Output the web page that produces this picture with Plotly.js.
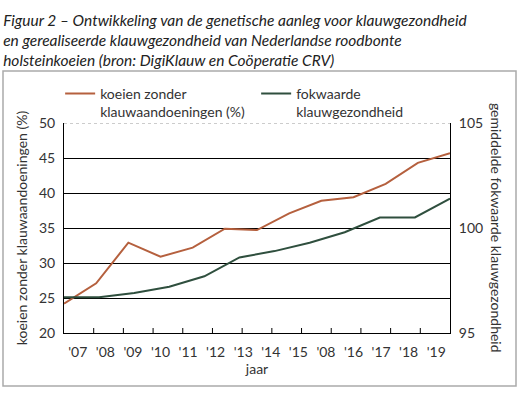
<!DOCTYPE html>
<html>
<head>
<meta charset="utf-8">
<script src="https://cdn.plot.ly/plotly-3.0.1.min.js"></script>
<style>html,body{margin:0;padding:0;background:#fff}#chart{width:524px;height:395px}</style>
</head>
<body>
<div id="chart"></div>
<script>
// Data
const yearLabels = ["'07", "'08", "'09", "'10", "'11", "'12", "'13", "'14", "'15", "'08", "'16", "'17", "'18", "'19"];
// koeien zonder klauwaandoeningen (%) – 13 points across the plot
const koeienZonder = [24.2, 27.1, 32.9, 30.9, 32.2, 34.9, 34.7, 37.1, 38.9, 39.4, 41.3, 44.3, 45.7];
// fokwaarde klauwgezondheid – 12 points across the plot
const fokwaarde = [96.7, 96.7, 96.9, 97.2, 97.7, 98.6, 98.9, 99.3, 99.8, 100.5, 100.5, 101.4];
const leftTicks = [20, 25, 30, 35, 40, 45, 50];
const rightTicks = [95, 100, 105];
const tickIntervals = 13; // the x axis is split into 13 parts by inside tick marks

const FONT = 'Lato, "Open Sans", sans-serif';
const TXT = '#333333';
const RED = '#b5603e';
const GREEN = '#2f4f3e';

const xMax1 = koeienZonder.length - 1;
const xMax2 = fokwaarde.length - 1;

const traces = [
  {
    x: koeienZonder.map((_, i) => i),
    y: koeienZonder,
    xaxis: 'x', yaxis: 'y',
    type: 'scatter', mode: 'lines',
    name: 'koeien zonder<br>klauwaandoeningen (%)',
    line: {color: RED, width: 2}
  },
  {
    x: fokwaarde.map((_, i) => i),
    y: fokwaarde,
    xaxis: 'x2', yaxis: 'y2',
    type: 'scatter', mode: 'lines',
    name: 'fokwaarde<br>klauwgezondheid',
    line: {color: GREEN, width: 2}
  }
];

// inside tick marks along the x axis, positioned on the x scale
const tickShapes = Array.from({length: tickIntervals - 1}, (_, k) => {
  const xv = (k + 1) * xMax1 / tickIntervals;
  return {
    type: 'line', xref: 'x', yref: 'paper', x0: xv, x1: xv, y0: 0, y1: 5 / 210,
    line: {color: '#000', width: 1}, layer: 'above'
  };
});

const layout = {
  width: 524, height: 395,
  margin: {l: 64, r: 74, t: 123, b: 62},
  paper_bgcolor: '#fff', plot_bgcolor: '#fff',
  font: {family: FONT, color: TXT, size: 14},
  title: {
    text: 'Figuur 2 – Ontwikkeling van de genetische aanleg voor klauwgezondheid<br>en gerealiseerde klauwgezondheid van Nederlandse roodbonte<br>holsteinkoeien (bron: DigiKlauw en Coöperatie CRV)',
    x: 0.006, xanchor: 'left', xref: 'container',
    y: 0.934, yanchor: 'top', yref: 'container',
    font: {family: FONT, size: 15.5, style: 'italic', color: '#222'}
  },
  showlegend: true,
  legend: {
    orientation: 'h', x: -0.01, xanchor: 'left', y: 1.215, yanchor: 'top',
    font: {family: FONT, size: 14, color: TXT},
    valign: 'top', entrywidth: 151, entrywidthmode: 'pixels',
    bgcolor: 'rgba(0,0,0,0)'
  },
  xaxis: {
    range: [0, xMax1], showline: true, linecolor: '#000', linewidth: 1,
    showgrid: false, zeroline: false, ticks: '',
    tickvals: yearLabels.map((_, i) => (i + 0.5) * xMax1 / yearLabels.length),
    ticktext: yearLabels,
    tickfont: {family: FONT, size: 14, color: TXT},
    ticklabelstandoff: 6,
    title: {text: 'jaar', font: {family: FONT, size: 14, color: TXT}, standoff: 2}
  },
  xaxis2: {
    overlaying: 'x', anchor: 'y2', range: [0, xMax2], visible: false
  },
  yaxis: {
    range: [20, 50], tickvals: leftTicks, ticks: '', showline: true, linecolor: '#000', linewidth: 1,
    showgrid: true, gridcolor: '#000', gridwidth: 1, zeroline: false,
    tickfont: {family: FONT, size: 14, color: TXT}, ticklabelstandoff: 5,
    title: {text: 'koeien zonder klauwaandoeningen (%)', font: {family: FONT, size: 14, color: TXT}, standoff: 8}
  },
  yaxis2: {
    overlaying: 'y', side: 'right', anchor: 'x2', range: [95, 105], tickvals: rightTicks, ticks: '',
    showline: true, linecolor: '#000', linewidth: 1, showgrid: false, zeroline: false,
    tickfont: {family: FONT, size: 14, color: TXT}, ticklabelstandoff: 5
  },
  annotations: [
    {
      text: 'gemiddelde fokwaarde klauwgezondheid', textangle: 90,
      xref: 'paper', yref: 'paper', x: 1.122, y: 0.5, xanchor: 'center', yanchor: 'middle',
      showarrow: false, font: {family: FONT, size: 14, color: TXT}
    }
  ],
  shapes: [
    {
      type: 'line', xref: 'paper', yref: 'y', x0: 0, x1: 1, y0: 50, y1: 50,
      line: {color: '#ffffff', width: 2}, layer: 'above'
    },
    {
      type: 'line', xref: 'paper', yref: 'y', x0: 0, x1: 1, y0: 50, y1: 50,
      line: {color: '#9a9a9a', width: 1, dash: 'dot'}, layer: 'above'
    },
    {
      type: 'rect', xref: 'paper', yref: 'paper',
      x0: (3 - 64) / 386, x1: (516 - 64) / 386, y0: (333 - 386) / 210, y1: (333 - 71) / 210,
      line: {color: '#aaaaaa', width: 1.5}, fillcolor: 'rgba(0,0,0,0)', layer: 'below'
    }
  ].concat(tickShapes)
};

Plotly.newPlot('chart', traces, layout, {displayModeBar: false, staticPlot: true});
</script>
</body>
</html>
